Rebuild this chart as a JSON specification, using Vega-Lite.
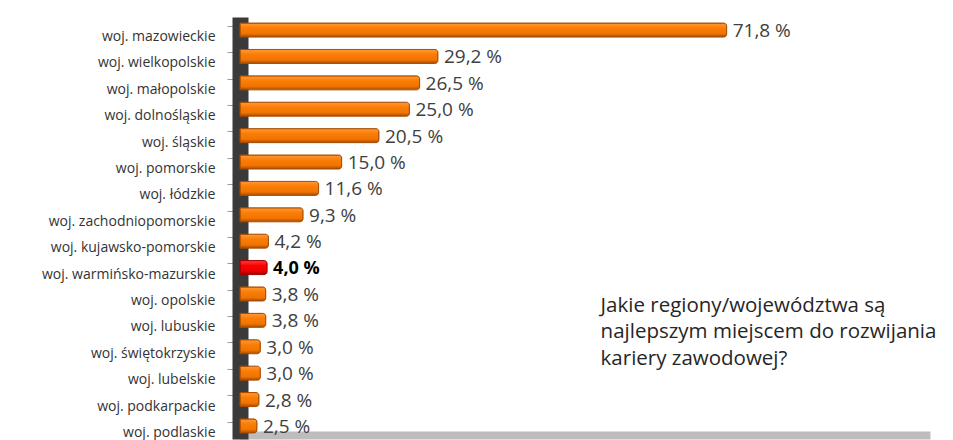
{
  "$schema": "https://vega.github.io/schema/vega-lite/v6.json",
  "autosize": "none",
  "padding": {"left": 240, "top": 17, "right": 23, "bottom": 1},
  "width": 690,
  "height": 422,
  "background": "white",
  "config": {"view": {"stroke": null}, "font": "Open Sans"},
  "data": {"values": [
    {"region": "woj. mazowieckie", "value": 71.8, "label": "71,8 %"},
    {"region": "woj. wielkopolskie", "value": 29.2, "label": "29,2 %"},
    {"region": "woj. małopolskie", "value": 26.5, "label": "26,5 %"},
    {"region": "woj. dolnośląskie", "value": 25.0, "label": "25,0 %"},
    {"region": "woj. śląskie", "value": 20.5, "label": "20,5 %"},
    {"region": "woj. pomorskie", "value": 15.0, "label": "15,0 %"},
    {"region": "woj. łódzkie", "value": 11.6, "label": "11,6 %"},
    {"region": "woj. zachodniopomorskie", "value": 9.3, "label": "9,3 %"},
    {"region": "woj. kujawsko-pomorskie", "value": 4.2, "label": "4,2 %"},
    {"region": "woj. warmińsko-mazurskie", "value": 4.0, "label": "4,0 %", "highlight": true},
    {"region": "woj. opolskie", "value": 3.8, "label": "3,8 %"},
    {"region": "woj. lubuskie", "value": 3.8, "label": "3,8 %"},
    {"region": "woj. świętokrzyskie", "value": 3.0, "label": "3,0 %"},
    {"region": "woj. lubelskie", "value": 3.0, "label": "3,0 %"},
    {"region": "woj. podkarpackie", "value": 2.8, "label": "2,8 %"},
    {"region": "woj. podlaskie", "value": 2.5, "label": "2,5 %"}
  ]},
  "encoding": {
    "y": {
      "field": "region", "type": "nominal",
      "scale": {"paddingInner": 0.47, "paddingOuter": 0.23,
        "domain": ["woj. mazowieckie", "woj. wielkopolskie", "woj. małopolskie", "woj. dolnośląskie", "woj. śląskie", "woj. pomorskie", "woj. łódzkie", "woj. zachodniopomorskie", "woj. kujawsko-pomorskie", "woj. warmińsko-mazurskie", "woj. opolskie", "woj. lubuskie", "woj. świętokrzyskie", "woj. lubelskie", "woj. podkarpackie", "woj. podlaskie"]},
      "axis": {
        "title": null, "domain": true, "domainColor": "#3a3a3a", "domainWidth": 16,
        "ticks": true, "tickColor": "#9a9a9a", "tickSize": 13, "bandPosition": 0.23,
        "labelOffset": 7, "labelPadding": 12, "labelFont": "Open Sans", "labelFontSize": 14,
        "labelColor": "#333333", "labelLimit": 300
      }
    },
    "x": {
      "field": "value", "type": "quantitative",
      "scale": {"domain": [0, 101.8], "nice": false},
      "axis": {"title": null, "labels": false, "ticks": false, "grid": false, "offset": -4,
               "domain": true, "domainColor": "#bdbdbd", "domainWidth": 8}
    }
  },
  "layer": [
    {
      "transform": [{"filter": "!datum.highlight"}],
      "mark": {"type": "bar", "height": 14, "cornerRadiusEnd": 3, "stroke": "#a84c00", "strokeWidth": 1,
        "color": {"gradient": "linear", "x1": 0, "y1": 0, "x2": 0, "y2": 1,
          "stops": [{"offset": 0, "color": "#ff9a3a"}, {"offset": 0.35, "color": "#fb7d05"}, {"offset": 0.75, "color": "#f07400"}, {"offset": 1, "color": "#a84c00"}]}}
    },
    {
      "transform": [{"filter": "datum.highlight"}],
      "mark": {"type": "bar", "height": 14, "cornerRadiusEnd": 3, "stroke": "#a00000", "strokeWidth": 1,
        "color": {"gradient": "linear", "x1": 0, "y1": 0, "x2": 0, "y2": 1,
          "stops": [{"offset": 0, "color": "#ff4040"}, {"offset": 0.35, "color": "#ff0000"}, {"offset": 0.75, "color": "#e80000"}, {"offset": 1, "color": "#9a0000"}]}}
    },
    {
      "transform": [{"filter": "!datum.highlight"}],
      "mark": {"type": "text", "align": "left", "baseline": "middle", "dx": 6, "dy": 1, "fontSize": 19, "font": "Open Sans", "color": "#404040"},
      "encoding": {"text": {"field": "label"}}
    },
    {
      "transform": [{"filter": "datum.highlight"}],
      "mark": {"type": "text", "align": "left", "baseline": "middle", "dx": 6, "dy": 1, "fontSize": 18, "font": "Open Sans", "fontWeight": "bold", "color": "#000000"},
      "encoding": {"text": {"field": "label"}}
    },
    {
      "data": {"values": [
        {"note": "Jakie regiony/województwa są", "region": "woj. opolskie", "value": 53.2},
        {"note": "najlepszym miejscem do rozwijania", "region": "woj. lubuskie", "value": 53.2},
        {"note": "kariery zawodowej?", "region": "woj. świętokrzyskie", "value": 53.2}
      ]},
      "mark": {"type": "text", "align": "left", "baseline": "middle", "fontSize": 20.5, "font": "Open Sans", "color": "#262626", "dy": 12},
      "encoding": {
        "text": {"field": "note", "type": "nominal"}
      }
    }
  ]
}
